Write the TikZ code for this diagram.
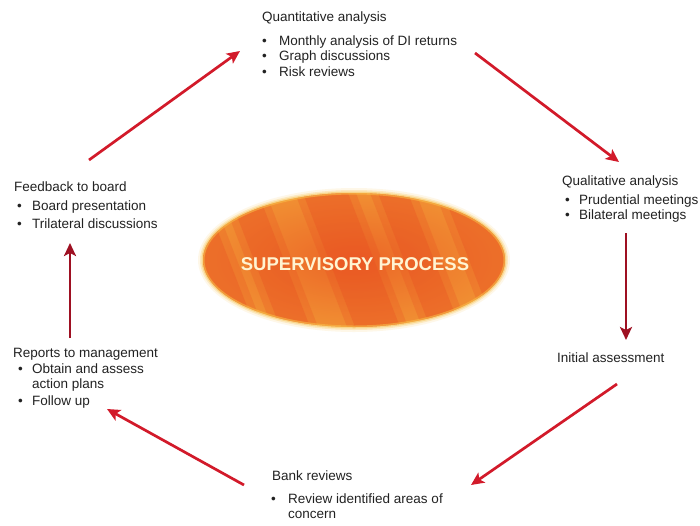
\documentclass[tikz,border=0pt]{standalone}
\usepackage{fontspec}
\setmainfont{Liberation Sans}
\usetikzlibrary{arrows.meta}
\definecolor{txt}{HTML}{222222}
\definecolor{arrred}{HTML}{D21A2A}
\definecolor{arrdark}{HTML}{9E1022}
\definecolor{ellbase}{HTML}{F08A30}
\definecolor{ellstripe}{HTML}{E8481F}
\definecolor{ellglow}{HTML}{F7C04A}
\definecolor{supertext}{HTML}{FFF4D2}
\tikzset{
  lbl/.style={anchor=base west, inner sep=0pt, text=txt, font=\fontsize{13.5}{15}\selectfont},
  flow/.style={draw=arrred, line width=2.7pt, -{Stealth[length=13pt,width=12pt,inset=3pt]}},
  flowdark/.style={draw=arrdark, line width=2.9pt, -{Stealth[length=13pt,width=12pt,inset=3pt]}},
}
\begin{document}
\begin{tikzpicture}[x=1pt,y=-1pt]
\useasboundingbox[fill=white] (0,0) rectangle (700,525);

% ellipse glow
\foreach \r/\o in {5/0.12,3/0.25,1.5/0.45}{
  \fill[ellglow, opacity=\o] (354,260) ellipse [x radius=151+\r, y radius=67+\r];
}
\begin{scope}
  \clip (354,260) ellipse [x radius=151, y radius=67];
  \shade[inner color=ellstripe!55!ellbase, outer color=ellbase!90!ellglow] (354,260) ellipse [x radius=152, y radius=68];
  \foreach \dx/\w in {-200/40,-135/30,-60/45,15/30,80/40,150/30}{
    \fill[ellstripe, opacity=0.22] (354+\dx-8,170) -- (354+\dx+\w+8,170) -- (354+\dx+\w+78,350) -- (354+\dx+62,350) -- cycle;
    \fill[ellstripe, opacity=0.28] (354+\dx,170) -- (354+\dx+\w,170) -- (354+\dx+\w+70,350) -- (354+\dx+70,350) -- cycle;
  }
  \draw[ellglow, line width=3pt, opacity=0.55] (354,260) ellipse [x radius=151, y radius=67];
\end{scope}
\node (sp) at (355,264) {\fontsize{18.5}{20}\selectfont\bfseries\color{supertext}SUPERVISORY PROCESS};

% Quantitative analysis
\node[lbl] (qn) at (262,21) {Quantitative analysis};
\node[lbl] (qn1) at (262,45) {•};
\node[lbl] (qn1t) at (279,45) {Monthly analysis of DI returns};
\node[lbl] (qn2) at (262,60) {•};
\node[lbl] (qn2t) at (279,60) {Graph discussions};
\node[lbl] (qn3) at (262,76) {•};
\node[lbl] (qn3t) at (279,76) {Risk reviews};

% Qualitative analysis
\node[lbl] (ql) at (562,185) {Qualitative analysis};
\node[lbl] (ql1) at (565,204) {•};
\node[lbl] (ql1t) at (579,204) {Prudential meetings};
\node[lbl] (ql2) at (565,219) {•};
\node[lbl] (ql2t) at (579,219) {Bilateral meetings};

% Initial assessment
\node[lbl] (ia) at (557,362) {Initial assessment};

% Bank reviews
\node[lbl] (br) at (272,480) {Bank reviews};
\node[lbl] (br1) at (271,503) {•};
\node[lbl] (br1t) at (288,503) {Review identified areas of};
\node[lbl] (br1u) at (288,518) {concern};

% Reports to management
\node[lbl] (rm) at (13,357) {Reports to management};
\node[lbl] (rm1) at (18,373) {•};
\node[lbl] (rm1t) at (32,373) {Obtain and assess};
\node[lbl] (rm1u) at (32,388) {action plans};
\node[lbl] (rm2) at (18,405) {•};
\node[lbl] (rm2t) at (32,405) {Follow up};

% Feedback to board
\node[lbl] (fb) at (14,191) {Feedback to board};
\node[lbl] (fb1) at (17,210) {•};
\node[lbl] (fb1t) at (32,210) {Board presentation};
\node[lbl] (fb2) at (17,228) {•};
\node[lbl] (fb2t) at (32,228) {Trilateral discussions};

% arrow end points
\coordinate (a1s) at (89,160);  \coordinate (a1e) at (240,51);
\coordinate (a2s) at (475,53);  \coordinate (a2e) at (619,162);
\coordinate (a3s) at (626,233); \coordinate (a3e) at (626,340);
\coordinate (a4s) at (617,384); \coordinate (a4e) at (471,485);
\coordinate (a5s) at (244,485); \coordinate (a5e) at (107,409);
\coordinate (a6s) at (70,338);  \coordinate (a6e) at (70,243);

\draw[flow] (a1s) -- (a1e);
\draw[flow] (a2s) -- (a2e);
\draw[flowdark] (a3s) -- (a3e);
\draw[flow] (a4s) -- (a4e);
\draw[flow] (a5s) -- (a5e);
\draw[flowdark] (a6s) -- (a6e);
\end{tikzpicture}
\end{document}
